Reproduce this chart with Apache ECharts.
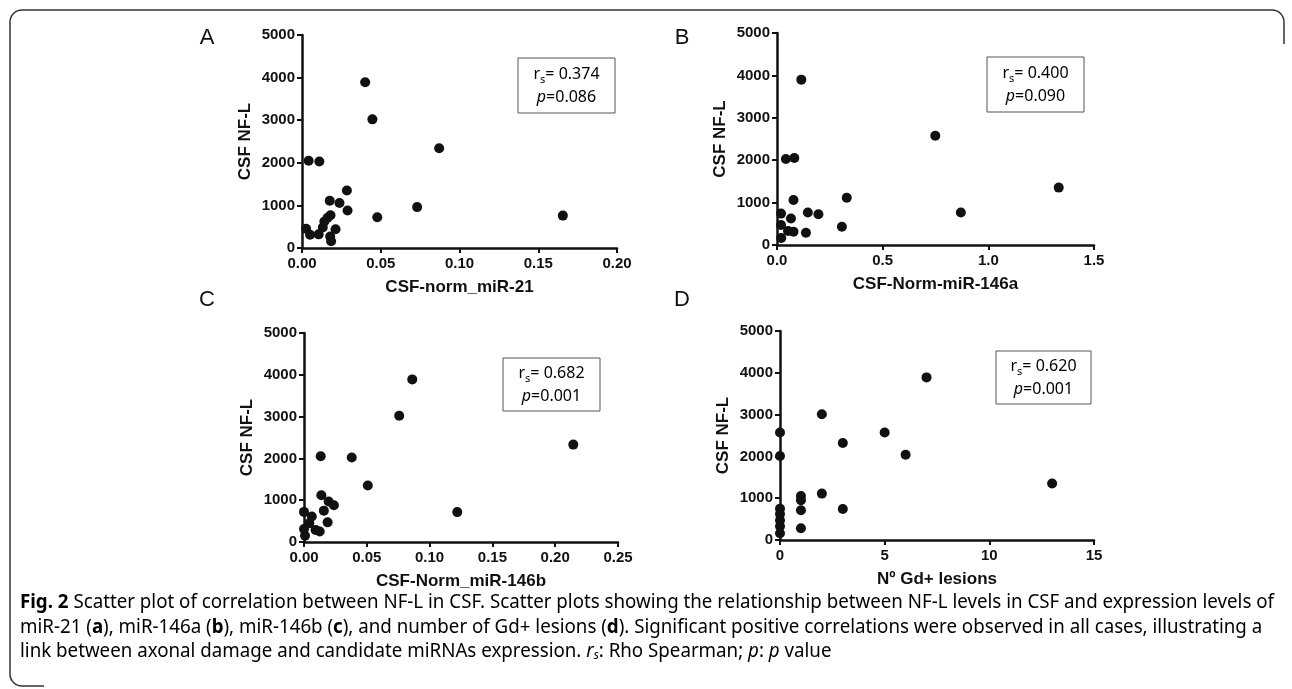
<!DOCTYPE html>
<html>
<head>
<meta charset="utf-8">
<script src="https://cdn.jsdelivr.net/npm/echarts@6/dist/echarts.min.js"></script>
<style>
  html, body { margin: 0; padding: 0; background: #fff; }
  #chart { width: 1292px; height: 689px; }
</style>
</head>
<body>
<div id="chart"></div>
<script>
// panel A: CSF-norm_miR-21 vs CSF NF-L
const miR21 = [0.0401, 0.0447, 0.0871, 0.0042, 0.0110, 0.0285, 0.0176, 0.0238, 0.0289, 0.0731, 0.0478,
  0.1656, 0.0026, 0.0051, 0.0106, 0.0132, 0.0142, 0.0163, 0.0181, 0.0213, 0.0179, 0.0185];
const nflA = [3890, 3020, 2340, 2050, 2030, 1350, 1110, 1055, 880, 960, 720,
  760, 450, 310, 320, 480, 620, 710, 770, 440, 270, 160];

// panel B: CSF-Norm-miR-146a
const miR146a = [0.115, 0.749, 0.042, 0.082, 0.078, 0.330, 0.019, 0.066, 0.146, 0.196, 0.019,
  0.052, 0.078, 0.137, 0.307, 0.020, 0.870, 1.333];
const nflB = [3900, 2575, 2030, 2050, 1060, 1115, 740, 625, 765, 725, 470,
  330, 315, 290, 430, 165, 765, 1354];

// panel C: CSF-Norm_miR-146b
const miR146b = [0.0862, 0.0758, 0.2144, 0.0133, 0.0380, 0.0508, 0.0138, 0.0196, 0.0238, 0.0158,
  0.0000, 0.1220, 0.0062, 0.0042, 0.0188, 0.0000, 0.0092, 0.0125, 0.0008];
const nflC = [3890, 3020, 2330, 2050, 2020, 1350, 1120, 970, 880, 750,
  720, 715, 610, 450, 470, 310, 290, 250, 150];

// panel D: number of Gd+ lesions
const gdLesions = [7, 2, 0, 5, 3, 0, 6, 13, 2, 1, 1, 0, 1, 3, 1, 0, 0, 0, 0];
const nflD = [3890, 3010, 2570, 2570, 2320, 2010, 2040, 1350, 1110, 1050, 950, 750, 710, 740, 280, 620, 470, 330, 160];

const panelLetters = ["A", "B", "C", "D"];
const xNames = ["CSF-norm_miR-21", "CSF-Norm-miR-146a", "CSF-Norm_miR-146b", "Nº Gd+ lesions"];
const xMax = [0.20, 1.5, 0.25, 15];
const xStep = [0.05, 0.5, 0.05, 5];
const xDigits = [2, 1, 2, 0];
const rhoValues = ["0.374", "0.400", "0.682", "0.620"];
const pValues = ["0.086", "0.090", "0.001", "0.001"];

const xData = [miR21, miR146a, miR146b, gdLesions];
const yData = [nflA, nflB, nflC, nflD];

const grids = [
  { left: 302, top: 35, width: 315, height: 213 },
  { left: 777, top: 33, width: 317, height: 212 },
  { left: 304, top: 333, width: 314, height: 209 },
  { left: 780, top: 331, width: 314, height: 209 }
];
const statBoxes = [
  { x: 518, y: 58, w: 97, h: 55 },
  { x: 987, y: 57, w: 97, h: 55 },
  { x: 503, y: 358, w: 97, h: 53 },
  { x: 996, y: 351, w: 95, h: 53 }
];
const letterPos = [[207, 38], [682, 38], [207, 300], [682, 300]];

const ink = "#111";
const tickFont = "Liberation Sans";

var chart = echarts.init(document.getElementById("chart"), null, { renderer: "canvas" });

const xAxes = grids.map((g, i) => ({
  gridIndex: i,
  type: "value",
  min: 0,
  max: xMax[i],
  interval: xStep[i],
  name: xNames[i],
  nameLocation: "middle",
  nameGap: 31,
  nameTextStyle: { fontFamily: tickFont, fontWeight: "bold", fontSize: 17, color: ink },
  axisLine: { show: true, onZero: false, lineStyle: { color: ink, width: 2.5 } },
  axisTick: { show: true, length: 5, lineStyle: { color: ink, width: 2 } },
  splitLine: { show: false },
  axisLabel: {
    margin: 8,
    fontFamily: tickFont,
    fontWeight: "bold",
    fontSize: 15,
    color: ink,
    formatter: (v) => v.toFixed(xDigits[i])
  }
}));

const yAxes = grids.map((g, i) => ({
  gridIndex: i,
  type: "value",
  min: 0,
  max: 5000,
  interval: 1000,
  name: "CSF NF-L",
  nameLocation: "middle",
  nameGap: 48,
  nameTextStyle: { fontFamily: tickFont, fontWeight: "bold", fontSize: 17, color: ink },
  axisLine: { show: true, lineStyle: { color: ink, width: 2.5 } },
  axisTick: { show: true, length: 5, lineStyle: { color: ink, width: 2 } },
  splitLine: { show: false },
  axisLabel: {
    margin: 7,
    fontFamily: tickFont,
    fontWeight: "bold",
    fontSize: 15,
    color: ink,
    formatter: (v) => String(v)
  }
}));

const series = xData.map((xs, i) => ({
  type: "scatter",
  xAxisIndex: i,
  yAxisIndex: i,
  symbolSize: 10,
  itemStyle: { color: ink, opacity: 1 },
  data: xs.map((x, k) => [x, yData[i][k]])
}));

const statRich = {
  n: { fontFamily: "Noto Sans", fontSize: 16, color: "#222", lineHeight: 23 },
  s: { fontFamily: "Noto Sans", fontSize: 11, color: "#222", lineHeight: 23, verticalAlign: "bottom" },
  i: { fontFamily: "Noto Sans", fontSize: 16, fontStyle: "italic", color: "#222", lineHeight: 23 }
};

const graphics = [];
// figure border: straight edges and rounded corners
const edge = { stroke: "#333", lineWidth: 1.5 };
[[22, 10, 1272, 10], [1284, 22, 1284, 44], [10, 22, 10, 674], [22, 686, 44, 686]].forEach((s) => {
  graphics.push({ type: "line", silent: true, shape: { x1: s[0], y1: s[1], x2: s[2], y2: s[3] }, style: edge });
});
[[22, 22, Math.PI, Math.PI * 1.5], [1272, 22, Math.PI * 1.5, Math.PI * 2], [22, 674, Math.PI * 0.5, Math.PI]].forEach((c) => {
  graphics.push({ type: "arc", silent: true, shape: { cx: c[0], cy: c[1], r: 12, startAngle: c[2], endAngle: c[3] }, style: edge });
});

statBoxes.forEach((b, i) => {
  graphics.push({
    type: "rect",
    shape: { x: b.x, y: b.y, width: b.w, height: b.h },
    style: { fill: "#fff", stroke: "#555", lineWidth: 1 },
    z: 10
  });
  graphics.push({
    type: "text",
    x: b.x + b.w / 2,
    y: b.y + b.h / 2,
    z: 11,
    style: {
      text: "{n|r}{s|s}{n|= " + rhoValues[i] + "}\n{i|p}{n|=" + pValues[i] + "}",
      rich: statRich,
      align: "center",
      verticalAlign: "middle"
    }
  });
});
panelLetters.forEach((L, i) => {
  graphics.push({
    type: "text",
    x: letterPos[i][0],
    y: letterPos[i][1],
    style: {
      text: L,
      fontFamily: tickFont,
      fontSize: 22,
      fill: "#111",
      align: "center",
      verticalAlign: "middle"
    }
  });
});

// caption
const capRich = {
  r: { fontFamily: "Noto Sans", fontSize: 19, color: "#333" },
  b: { fontFamily: "Noto Sans", fontSize: 19, fontWeight: "bold", color: "#222" },
  i: { fontFamily: "Noto Sans", fontSize: 19, fontStyle: "italic", color: "#333" },
  s: { fontFamily: "Noto Sans", fontSize: 12, fontStyle: "italic", color: "#333", verticalAlign: "bottom" }
};
const captionLines = [
  "{b|Fig. 2}{r| Scatter plot of correlation between NF-L in CSF. Scatter plots showing the relationship between NF-L levels in CSF and expression levels of}",
  "{r|miR-21 (}{b|a}{r|), miR-146a (}{b|b}{r|), miR-146b (}{b|c}{r|), and number of Gd+ lesions (}{b|d}{r|). Significant positive correlations were observed in all cases, illustrating a}",
  "{r|link between axonal damage and candidate miRNAs expression. }{i|r}{s|s}{r|: Rho Spearman; }{i|p}{r|: }{i|p}{r| value}"
];
const captionY = [603, 628, 652];
captionLines.forEach((t, i) => {
  graphics.push({
    type: "text",
    x: 20,
    y: captionY[i],
    scaleX: 0.985,
    style: { text: t, rich: capRich, align: "left", verticalAlign: "middle" }
  });
});

var option = {
  backgroundColor: "#fff",
  animation: false,
  grid: grids,
  xAxis: xAxes,
  yAxis: yAxes,
  series: series,
  graphic: graphics
};

chart.setOption(option);
window.addEventListener("resize", chart.resize);
</script>
</body>
</html>
